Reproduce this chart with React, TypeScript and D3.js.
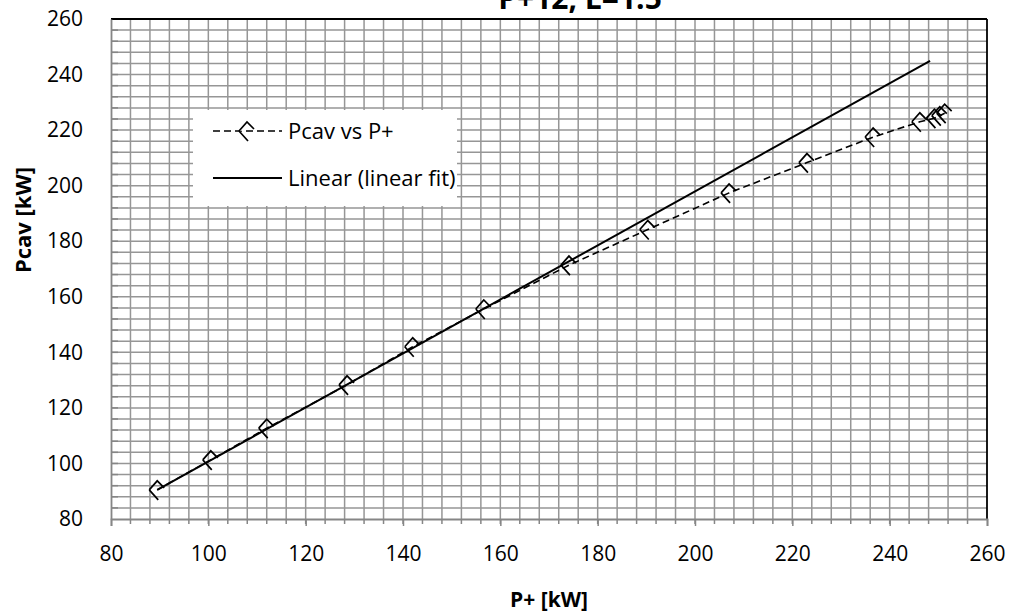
import * as d3 from 'd3';
import React, { useRef, useEffect } from 'react';

const pPlus = [89.5, 100.5, 112, 128.5, 142, 156.6, 174.1, 190.3, 207, 223, 236.6, 246.2, 249.2, 250.3, 251.3];
const pCav = [90.5, 101.3, 112.7, 128.3, 142, 155.6, 171.4, 184.2, 197.4, 208.3, 217.5, 223, 224.3, 225.2, 226.1];

// linear fit endpoints
const fitX = [89.5, 248.3];
const fitY = [90.5, 244.9];

const xTicks = [80, 100, 120, 140, 160, 180, 200, 220, 240, 260];
const yTicks = [80, 100, 120, 140, 160, 180, 200, 220, 240, 260];

const titleText = 'P+12, L=1.5';
const xLabel = 'P+ [kW]';
const yLabel = 'Pcav [kW]';
const legendLabels = ['Pcav vs P+', 'Linear (linear fit)'];

const dims = { width: 1010, height: 613, left: 111, right: 987, top: 19, bottom: 519 };
const font = "'Open Sans', sans-serif";

const App = () => {
  const svgRef = useRef<SVGSVGElement>(null);

  useEffect(() => {
    const { left, right, top, bottom } = dims;
    const x = d3.scaleLinear().domain([80, 260]).range([left, right]);
    const y = d3.scaleLinear().domain([80, 260]).range([bottom, top]);

    const svg = d3.select(svgRef.current);
    svg.selectAll('*').remove();

    svg.append('rect').attr('width', dims.width).attr('height', dims.height).attr('fill', '#fff');

    // grid, every 4 kW
    const minor = d3.range(84, 260, 4);
    svg.append('g').selectAll('line').data(minor).join('line')
      .attr('x1', d => x(d)).attr('x2', d => x(d))
      .attr('y1', top).attr('y2', bottom)
      .attr('stroke', '#969696').attr('stroke-width', 1.5);
    svg.append('g').selectAll('line').data(minor).join('line')
      .attr('y1', d => y(d)).attr('y2', d => y(d))
      .attr('x1', left).attr('x2', right)
      .attr('stroke', '#969696').attr('stroke-width', 1.5);

    // frame
    svg.append('line').attr('x1', left).attr('x2', right).attr('y1', top).attr('y2', top)
      .attr('stroke', '#000').attr('stroke-width', 1.8);
    svg.append('line').attr('x1', right).attr('x2', right).attr('y1', top).attr('y2', bottom)
      .attr('stroke', '#000').attr('stroke-width', 1.8);

    // x axis
    const gx = svg.append('g').attr('transform', `translate(0,${bottom})`)
      .call(d3.axisBottom(x).tickValues(xTicks).tickSize(7).tickPadding(20));
    gx.select('.domain').attr('stroke', '#868686').attr('stroke-width', 1.8);
    gx.selectAll('.tick line').attr('stroke', '#868686').attr('stroke-width', 1.5);
    gx.selectAll('text').attr('font-family', font).attr('font-size', 21).attr('fill', '#000');
    svg.append('g').selectAll('line').data(minor).join('line')
      .attr('x1', d => x(d)).attr('x2', d => x(d))
      .attr('y1', bottom).attr('y2', bottom + 5)
      .attr('stroke', '#868686').attr('stroke-width', 1.5);

    // y axis
    const gy = svg.append('g').attr('transform', `translate(${left},0)`)
      .call(d3.axisLeft(y).tickValues(yTicks).tickSize(0).tickPadding(28));
    gy.select('.domain').attr('stroke', '#868686').attr('stroke-width', 1.8);
    gy.selectAll('text').attr('font-family', font).attr('font-size', 21).attr('fill', '#000');
    svg.append('g').selectAll('line').data(minor).join('line')
      .attr('y1', d => y(d)).attr('y2', d => y(d))
      .attr('x1', left).attr('x2', left + 7)
      .attr('stroke', '#868686').attr('stroke-width', 1.5);

    // linear fit
    svg.append('path')
      .attr('d', d3.line<number>().x(d => x(d)).y((_, i) => y(fitY[i]))(fitX))
      .attr('fill', 'none').attr('stroke', '#000').attr('stroke-width', 2);

    // measured series, dashed
    svg.append('path')
      .attr('d', d3.line<number>().x(d => x(d)).y((_, i) => y(pCav[i]))(pPlus))
      .attr('fill', 'none').attr('stroke', '#000').attr('stroke-width', 1.6)
      .attr('stroke-dasharray', '7,4');

    const marker = 'M-8,0L0,-9L7,-2M-8,0L1,10';
    svg.append('g').selectAll('path').data(pPlus).join('path')
      .attr('transform', (d, i) => `translate(${x(d)},${y(pCav[i])})`)
      .attr('d', marker)
      .attr('fill', 'none').attr('stroke', '#000').attr('stroke-width', 1.7);

    // legend
    const lg = svg.append('g');
    lg.append('rect').attr('x', 193).attr('y', 110).attr('width', 264).attr('height', 96).attr('fill', '#fff');
    lg.append('line').attr('x1', 213).attr('x2', 282).attr('y1', 131).attr('y2', 131)
      .attr('stroke', '#000').attr('stroke-width', 1.6).attr('stroke-dasharray', '7,4');
    lg.append('path').attr('transform', 'translate(247,131)').attr('d', marker)
      .attr('fill', '#fff').attr('stroke', '#000').attr('stroke-width', 1.7);
    lg.append('line').attr('x1', 213).attr('x2', 282).attr('y1', 178).attr('y2', 178)
      .attr('stroke', '#000').attr('stroke-width', 2);
    lg.selectAll('text').data(legendLabels).join('text')
      .attr('x', 288).attr('y', (_, i) => 131 + i * 47)
      .attr('dy', '0.35em')
      .attr('font-family', font).attr('font-size', 22)
      .text(d => d);

    // titles
    svg.append('text').attr('x', 580).attr('y', 9).attr('text-anchor', 'middle')
      .attr('font-family', font).attr('font-weight', 'bold').attr('font-size', 30)
      .text(titleText);
    svg.append('text').attr('x', (left + right) / 2).attr('y', 607).attr('text-anchor', 'middle')
      .attr('font-family', font).attr('font-weight', 'bold').attr('font-size', 21)
      .text(xLabel);
    svg.append('text').attr('transform', `translate(31,220) rotate(-90)`).attr('text-anchor', 'middle')
      .attr('font-family', font).attr('font-weight', 'bold').attr('font-size', 22)
      .text(yLabel);
  }, []);

  return (
    <svg ref={svgRef} width={dims.width} height={dims.height}
      style={{ position: 'absolute', left: 0, top: 0 }} />
  );
};

export default App;
